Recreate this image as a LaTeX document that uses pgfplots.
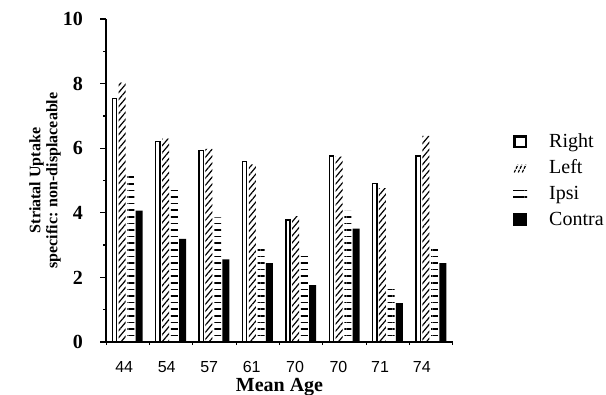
\documentclass[border=0pt]{standalone}
\usepackage{fontspec}
\setmainfont{Liberation Serif}
\newfontfamily\arial{Liberation Sans}
\usepackage{pgfplots}
\pgfplotsset{compat=1.18}
\usetikzlibrary{patterns.meta}
\begin{document}
\begin{tikzpicture}
\useasboundingbox (0,0) rectangle (606pt,395pt);
\begin{axis}[
  at={(106pt,53pt)}, anchor=south west,
  scale only axis, width=347pt, height=323pt,
  xmin=0, xmax=8, ymin=0, ymax=10,
  axis x line*=bottom, axis y line*=left,
  axis line style={line width=1.5pt},
  ybar, bar width=7pt,
  xtick={0.42,1.4,2.38,3.36,4.36,5.36,6.32,7.28},
  xticklabels={44,54,57,61,70,70,71,74},
  minor xtick={0,1,2,3,4,5,6,7,8},
  major x tick style={draw=none},
  minor x tick style={line width=1pt, black},
  major tick length=6pt, minor tick length=3pt,
  ytick={0,2,4,6,8,10},
  minor ytick={1,3,5,7,9},
  y tick style={line width=1.3pt, black},
  tick align=outside,
  /pgf/number format/assume math mode=true,
  xticklabel style={font=\arial\fontsize{16}{16}\selectfont, anchor=base, yshift=-25pt},
  yticklabel style={font=\bfseries\fontsize{20}{20}\selectfont, anchor=east, inner sep=0pt, xshift=-17pt},
  xlabel={Mean Age},
  xlabel style={font=\bfseries\fontsize{20}{20}\selectfont, at={(axis description cs:0.5,0)}, anchor=base, yshift=-49.5pt, inner sep=0pt},
  ylabel={Striatal Uptake\\specific: non-displaceable},
  ylabel style={font=\bfseries\fontsize{16}{17}\selectfont, align=center, at={(axis description cs:0,0.5)}, anchor=center, rotate=0, yshift=61pt},
  legend style={at={(axis description cs:1.173,0.497)}, anchor=west, draw=none, fill=none,
    font=\fontsize{20}{20}\selectfont, row sep=8pt, inner sep=0pt,
    nodes={inner sep=0pt, text height=14pt, text depth=4pt},
    cells={anchor=west}, /tikz/every odd column/.append style={column sep=22pt}},
]
\addplot[bar shift=-13.2pt, bar width=4.2pt, draw=black, line width=1.4pt, fill=white,
  legend image code/.code={\draw[line width=2.4pt,fill=white] (1.2pt,-4.5pt) rectangle (12.8pt,6pt);}]
  coordinates {(0.5,7.54) (1.5,6.20) (2.5,5.92) (3.5,5.58) (4.5,3.78) (5.5,5.76) (6.5,4.91) (7.5,5.76)};
\addplot[bar shift=-5.5pt, draw=none, pattern={Lines[angle=50,distance=4.5pt,line width=1.2pt]}, pattern color=black,
  legend image code/.code={\foreach \x in {1,5,9}{\draw[line width=1.2pt,dash pattern=on 3pt off 1.2pt] (\x pt,-4pt)--(\x pt+3.8pt,3.8pt);}}]
  coordinates {(0.5,8.03) (1.5,6.30) (2.5,5.98) (3.5,5.50) (4.5,3.90) (5.5,5.74) (6.5,4.76) (7.5,6.38)};
\addplot[bar shift=3.3pt, draw=none, pattern={Lines[angle=0,distance=6.6pt,line width=1.6pt]}, pattern color=black,
  legend image code/.code={\fill (0pt,2pt) rectangle (14pt,4.2pt); \fill (0pt,-3.4pt) rectangle (14pt,-0.6pt);}]
  coordinates {(0.5,5.22) (1.5,4.78) (2.5,3.86) (3.5,2.92) (4.5,2.69) (5.5,4.06) (6.5,1.76) (7.5,2.92)};
\addplot[bar shift=11.5pt, draw=none, fill=black,
  legend image code/.code={\fill (0pt,-5.5pt) rectangle (14pt,7pt);}]
  coordinates {(0.5,4.07) (1.5,3.19) (2.5,2.56) (3.5,2.44) (4.5,1.76) (5.5,3.51) (6.5,1.20) (7.5,2.44)};
\legend{Right,Left,Ipsi,Contra}
\end{axis}
\end{tikzpicture}
\end{document}
